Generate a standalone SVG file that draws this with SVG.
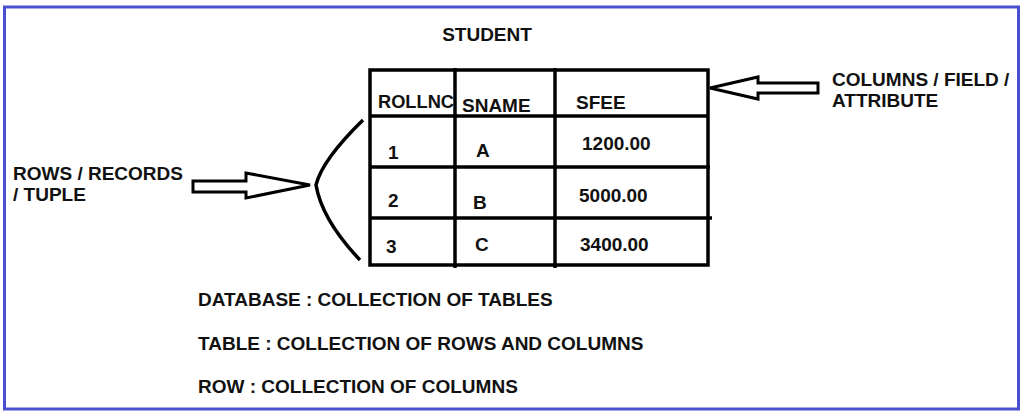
<svg xmlns="http://www.w3.org/2000/svg" width="1024" height="418" viewBox="0 0 1024 418">
<style>
text{font-family:"Liberation Sans",Arial,sans-serif;font-weight:bold;font-size:19px;fill:#111}
.ln{stroke:#000;stroke-width:3.5;fill:none}
.ar{stroke:#000;stroke-width:3;fill:#fff;stroke-linejoin:miter}
</style>
<rect x="0" y="0" width="1024" height="418" fill="#fff"/>
<rect x="4.5" y="7" width="1014" height="402" fill="none" stroke="#4a4fd0" stroke-width="3"/>
<text x="487" y="41" text-anchor="middle">STUDENT</text>
<g id="table">
<rect class="ln" x="370" y="70" width="338" height="195"/>
<line class="ln" x1="455" y1="68" x2="455" y2="268"/>
<line class="ln" x1="555" y1="68" x2="555" y2="268"/>
<line class="ln" x1="370" y1="116" x2="708" y2="116"/>
<line class="ln" x1="370" y1="167" x2="710" y2="167"/>
<line class="ln" x1="370" y1="218" x2="712" y2="218"/>
<text x="378" y="108" textLength="76" lengthAdjust="spacingAndGlyphs">ROLLNC</text>
<text x="462" y="112" font-size="20">SNAME</text>
<text x="576" y="109">SFEE</text>
<text x="388" y="159">1</text><text x="476" y="157">A</text><text x="582" y="150">1200.00</text>
<text x="388" y="207">2</text><text x="473" y="209">B</text><text x="579" y="202">5000.00</text>
<text x="386" y="253">3</text><text x="475" y="251">C</text><text x="580" y="251">3400.00</text>
</g>
<g id="connectors">
<path class="ln" d="M363 120 Q322 160 316 185 Q322 220 360 260"/>
<path class="ar" d="M193 181 H246 V173 L310 185 L246 198 V192 H193 Z"/>
<path class="ar" d="M818 83 H758 V77 L710 88 L758 99 V93 H818 Z"/>
</g>
<g id="labels">
<text x="13" y="180">ROWS / RECORDS</text>
<text x="13" y="201">/ TUPLE</text>
<text x="832" y="86">COLUMNS / FIELD /</text>
<text x="832" y="107">ATTRIBUTE</text>
<text x="198" y="306">DATABASE : COLLECTION OF TABLES</text>
<text x="198" y="350">TABLE  : COLLECTION OF ROWS AND COLUMNS</text>
<text x="198" y="393">ROW : COLLECTION OF COLUMNS</text>
</g>
</svg>
